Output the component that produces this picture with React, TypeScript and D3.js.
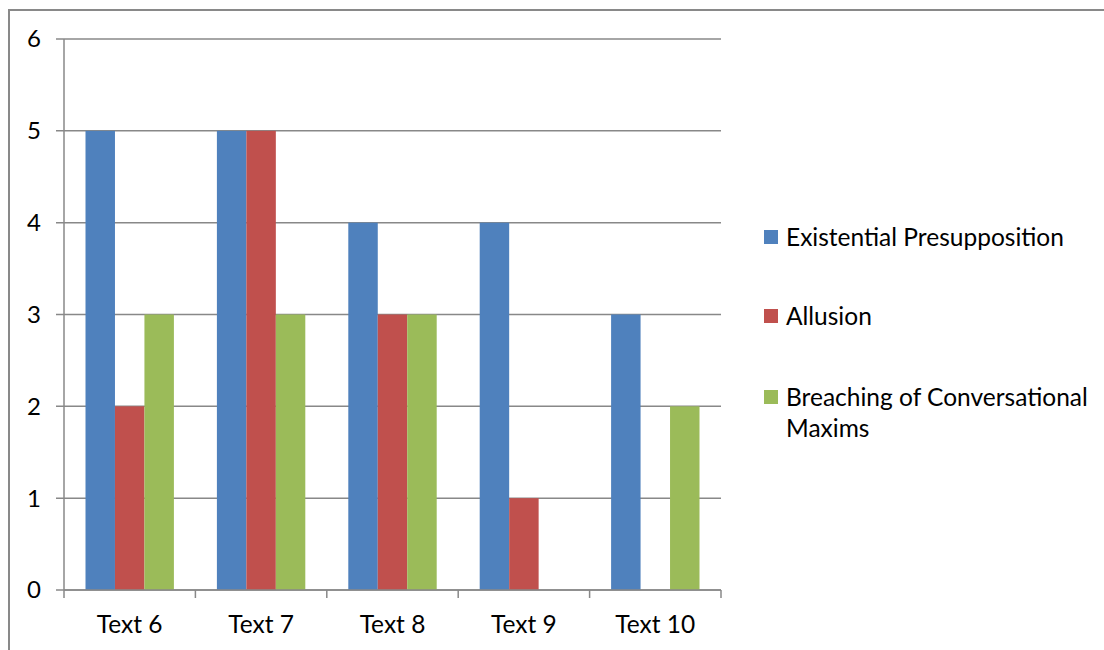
import React from "react";
import * as d3 from "d3";

const categories = ["Text 6", "Text 7", "Text 8", "Text 9", "Text 10"];
const seriesNames = ["Existential Presupposition", "Allusion", "Breaching of Conversational Maxims"];
const existential = [5, 5, 4, 4, 3];
const allusion = [2, 5, 3, 1, 0];
const breaching = [3, 3, 3, 0, 2];
const yTicks = [0, 1, 2, 3, 4, 5, 6];
const colors = ["#4F81BD", "#C0504D", "#9BBB59"];

const W = 1104, H = 650;
const left = 64, right = 721, top = 39, bottom = 590;
const FONT = "Lato, 'Open Sans', sans-serif";

export default function App() {
  const series = [existential, allusion, breaching];
  const x = d3.scaleBand<string>().domain(categories).range([left, right]).paddingInner(0).paddingOuter(0);
  const y = d3.scaleLinear().domain([0, 6]).range([bottom, top]);
  const bw = x.bandwidth();
  const inner = d3.scaleBand<number>().domain([0, 1, 2]).range([21.5, bw - 21.5]).paddingInner(0).paddingOuter(0);
  const grid = "#888888";
  const legendRows = [
    { lines: ["Existential Presupposition"], y: 237 },
    { lines: ["Allusion"], y: 316 },
    { lines: ["Breaching of Conversational", "Maxims"], y: 397 },
  ];
  return (
    <svg width={W} height={H} style={{ position: "absolute", left: 0, top: 0, background: "#fff" }}>
      <rect x={0} y={0} width={W} height={H} fill="#fff" />
      <path d={`M9,${H} V10 H${W}`} fill="none" stroke="#898989" strokeWidth={2} />
      {yTicks.map((t) => (
        <g key={t}>
          <line x1={56} x2={right} y1={y(t)} y2={y(t)} stroke={grid} strokeWidth={1.5} />
          <text x={41} y={y(t)} dy="0.35em" textAnchor="end" fontFamily={FONT} fontSize={24} fill="#000">{t}</text>
        </g>
      ))}
      {series.map((vals, si) =>
        categories.map((c, ci) =>
          vals[ci] > 0 ? (
            <rect key={`${si}-${ci}`} x={(x(c) as number) + (inner(si) as number)} y={y(vals[ci])}
              width={inner.bandwidth()} height={y(0) - y(vals[ci])} fill={colors[si]} />
          ) : null
        )
      )}
      <line x1={left} x2={left} y1={top} y2={bottom} stroke={grid} strokeWidth={1.5} />
      <line x1={left} x2={right} y1={bottom} y2={bottom} stroke={grid} strokeWidth={1.5} />
      {[...categories.map((c) => x(c) as number), right].map((px, i) => (
        <line key={i} x1={px} x2={px} y1={bottom} y2={bottom + 8} stroke={grid} strokeWidth={1.5} />
      ))}
      {categories.map((c) => (
        <text key={c} x={(x(c) as number) + bw / 2} y={633} textAnchor="middle" fontFamily={FONT} fontSize={24.5} fill="#000">{c}</text>
      ))}
      {legendRows.map((r, i) => (
        <g key={i}>
          <rect x={764} y={r.y - 7} width={14} height={14} fill={colors[i]} />
          {r.lines.map((ln, j) => (
            <text key={j} x={786} y={r.y + j * 31} dy="0.35em" fontFamily={FONT} fontSize={24.5} fill="#000">{ln}</text>
          ))}
        </g>
      ))}
    </svg>
  );
}
